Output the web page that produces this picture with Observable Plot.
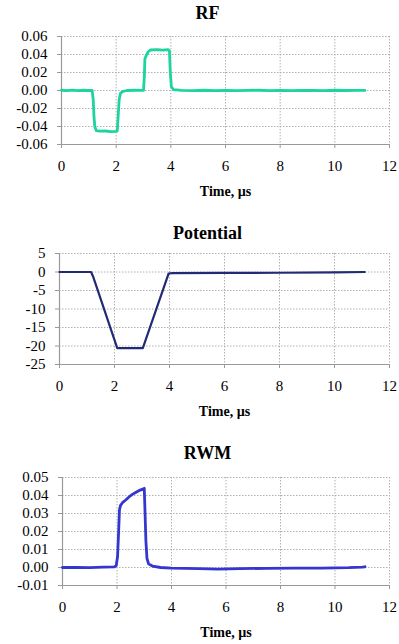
<!DOCTYPE html>
<html>
<head>
<meta charset="utf-8">
<script src="https://cdn.jsdelivr.net/npm/d3@7"></script>
<script src="https://cdn.jsdelivr.net/npm/@observablehq/plot@0.6"></script>
<style>
  html, body { margin: 0; padding: 0; background: #fff; }
  #wrap { position: relative; width: 399px; height: 644px; overflow: hidden; }
  #wrap > div { position: absolute; left: 0; }
  #wrap svg { display: block; font-family: 'Liberation Serif', 'Times New Roman', Times, serif !important; }
  #wrap svg text, #wrap svg g { font-family: 'Liberation Serif', 'Times New Roman', Times, serif !important; }
</style>
</head>
<body>
<div id="wrap">
  <div id="c1" style="top:0px"></div>
  <div id="c2" style="top:210px"></div>
  <div id="c3" style="top:420px"></div>
</div>
<script>
// ---- Data ----
const xTicks = [0, 2, 4, 6, 8, 10, 12];
const xLabel = "Time, µs";

// RF
const rfTitle = "RF";
const rfTicks = [-0.06, -0.04, -0.02, 0, 0.02, 0.04, 0.06];
const rfTime  = [0, 0.2, 0.4, 0.6, 0.8, 1.0, 1.12, 1.16, 1.19, 1.22, 1.27, 1.4, 1.6, 1.8, 2.0, 2.04, 2.07, 2.11, 2.16, 2.25, 2.4, 2.7, 3.0, 3.03, 3.05, 3.1, 3.17, 3.25, 3.5, 3.7, 3.9, 3.95, 3.98, 4.02, 4.1, 4.4, 4.8, 5.2, 5.6, 6.0, 6.4, 6.8, 7.2, 7.6, 8.0, 8.4, 8.8, 9.2, 9.6, 10.0, 10.4, 10.8, 11.1];
const rfValue = [0.0003, -0.0002, 0.0004, -0.0001, 0.0003, 0.0000, 0.0002, -0.010, -0.030, -0.040, -0.0445, -0.0452, -0.0450, -0.0456, -0.0454, -0.0450, -0.030, -0.010, -0.003, -0.001, 0.0000, 0.0003, 0.0002, 0.015, 0.035, 0.0390, 0.0430, 0.0450, 0.0455, 0.0448, 0.0455, 0.0440, 0.020, 0.004, 0.0010, 0.0002, -0.0002, 0.0003, -0.0001, 0.0002, -0.0002, 0.0001, 0.0003, -0.0002, 0.0001, -0.0001, 0.0002, 0.0000, -0.0002, 0.0003, 0.0000, 0.0002, 0.0001];

// Potential
const potTitle = "Potential";
const potTicks = [-25, -20, -15, -10, -5, 0, 5];
const potTime  = [0, 1.15, 1.22, 2.1, 3.03, 3.97, 4.1, 6.0, 8.0, 10.0, 11.1];
const potValue = [0, 0, -1.2, -20.6, -20.6, -0.4, -0.3, -0.25, -0.2, -0.1, 0];

// RWM
const rwmTitle = "RWM";
const rwmTicks = [-0.01, 0, 0.01, 0.02, 0.03, 0.04, 0.05];
const rwmTime  = [0, 0.5, 1.0, 1.5, 1.9, 1.97, 2.02, 2.06, 2.09, 2.13, 2.2, 2.32, 2.45, 2.55, 2.7, 2.85, 2.97, 3.0, 3.02, 3.06, 3.1, 3.16, 3.3, 3.6, 4.0, 4.5, 5.0, 5.7, 6.5, 7.5, 8.5, 9.5, 10.5, 11.0, 11.1];
const rwmValue = [0.0000, 0.0001, -0.0001, 0.0002, 0.0003, 0.0010, 0.0060, 0.0200, 0.0320, 0.0345, 0.0360, 0.0375, 0.0393, 0.0405, 0.0418, 0.0430, 0.0437, 0.0440, 0.0350, 0.0150, 0.0050, 0.0020, 0.0008, 0.0000, -0.0004, -0.0005, -0.0006, -0.0009, -0.0006, -0.0005, -0.0004, -0.0003, -0.0001, 0.0002, 0.0004];

// ---- Drawing ----
const FONT = "'Liberation Serif', 'Times New Roman', Times, serif";

function chart({title, time, value, ticks, fmt, color, lineWidth, height, mt, mb, ml, titleDy}) {
  const data = time.map((t, i) => ({t, v: value[i]}));
  const y0 = ticks[0], y1 = ticks[ticks.length - 1];
  const titleCenter = 207; // absolute x of the title centre
  return Plot.plot({
    width: 399,
    height,
    marginTop: mt,
    marginBottom: mb,
    marginLeft: ml,
    marginRight: 10,
    style: {fontFamily: FONT, background: "#fff", color: "#000", overflow: "visible"},
    x: {domain: [0, 12], ticks: xTicks},
    y: {domain: [y0, y1], ticks},
    marks: [
      Plot.gridX(xTicks.filter(d => d > 0), {stroke: "#b0b0b0", strokeOpacity: 1, strokeDasharray: "1.5,1.5", strokeWidth: 1}),
      Plot.gridY(ticks.filter(d => d > y0), {stroke: "#b0b0b0", strokeOpacity: 1, strokeDasharray: "1.5,1.5", strokeWidth: 1}),
      Plot.axisX({ticks: xTicks, tickSize: 4, tickPadding: 12, stroke: "#999", fill: "#000", fontSize: 15, fontFamily: FONT, label: null, tickFormat: d => String(d)}),
      Plot.axisY({ticks, tickSize: 4, tickPadding: 10, stroke: "#999", fill: "#000", fontSize: 15, fontFamily: FONT, label: null, tickFormat: fmt}),
      Plot.ruleX([0], {stroke: "#999", strokeWidth: 1.2}),
      Plot.ruleY([y0], {stroke: "#999", strokeWidth: 1.2}),
      Plot.line(data, {x: "t", y: "v", stroke: color, strokeWidth: lineWidth, curve: "linear"}),
      Plot.text([title], {text: d => d, frameAnchor: "top-left", dx: titleCenter - ml, dy: titleDy, textAnchor: "middle", fontSize: 18, fontWeight: "bold", fontFamily: FONT, fill: "#000"}),
      Plot.text([xLabel], {text: d => d, frameAnchor: "bottom", dy: 51, textAnchor: "middle", fontSize: 14, fontWeight: "bold", fontFamily: FONT, fill: "#000"})
    ]
  });
}

document.getElementById("c1").append(chart({
  title: rfTitle, time: rfTime, value: rfValue, ticks: rfTicks,
  fmt: d => d.toFixed(2), color: "#1dd39e", lineWidth: 2.8,
  height: 210, mt: 36, mb: 66, ml: 61, titleDy: -30
}));
document.getElementById("c2").append(chart({
  title: potTitle, time: potTime, value: potValue, ticks: potTicks,
  fmt: d => String(d), color: "#232a75", lineWidth: 2.2,
  height: 210, mt: 43, mb: 56, ml: 59, titleDy: -27
}));
document.getElementById("c3").append(chart({
  title: rwmTitle, time: rwmTime, value: rwmValue, ticks: rwmTicks,
  fmt: d => d.toFixed(2), color: "#3535d0", lineWidth: 2.8,
  height: 224, mt: 57, mb: 59, ml: 62, titleDy: -31
}));
</script>
</body>
</html>
